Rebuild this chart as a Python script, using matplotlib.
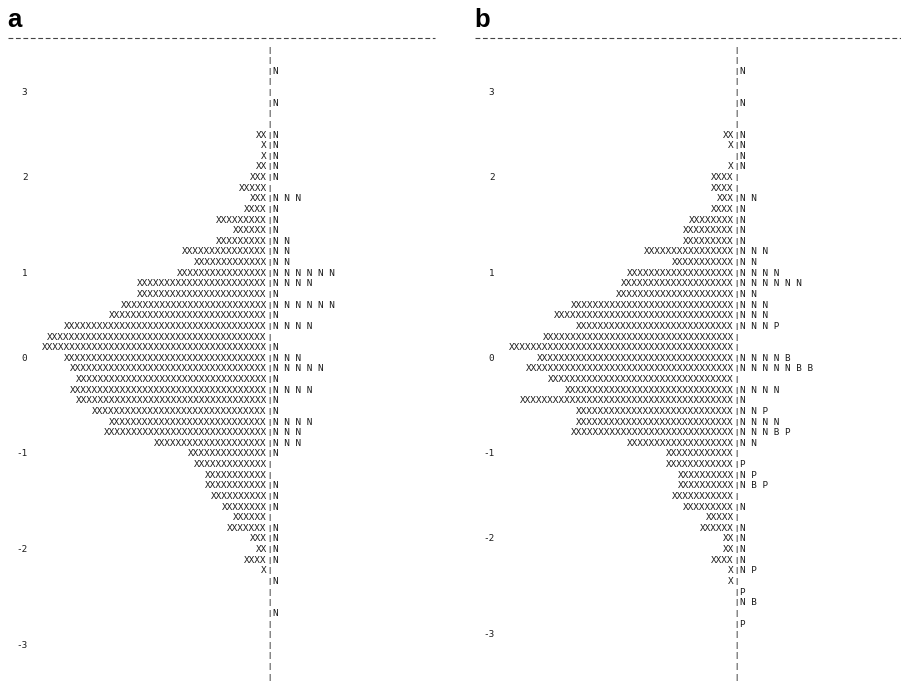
import matplotlib
matplotlib.use("Agg")
import matplotlib.pyplot as plt

# Person-item map rows, top row first: number of persons (X) and the items on each row
persons_a = [0, 0, 0, 0, 0, 0, 0, 0,
             2, 1, 1, 2, 3, 5, 3, 4, 9, 6, 9, 15, 13, 16, 23, 23, 26, 28, 36, 39,
             40, 36, 35, 34, 35, 34, 31, 28, 29, 20, 14, 13, 11, 11, 10, 8, 6, 7,
             3, 2, 4, 1,
             0, 0, 0, 0, 0, 0, 0, 0, 0, 0]
items_a = ["", "", "N", "", "", "N", "", "", "N", "N", "N", "N", "N", "", "NNN",
           "N", "N", "N", "NN", "NN", "NN", "NNNNNN", "NNNN", "N", "NNNNNN", "N",
           "NNNN", "", "N", "NNN", "NNNNN", "N", "NNNN", "N", "N", "NNNN", "NNN",
           "NNN", "N", "", "", "N", "N", "N", "", "N", "N", "N", "N", "", "N", "",
           "", "N", "", "", "", "", "", ""]
tick_rows_a = [5, 13, 22, 30, 39, 48, 57]

persons_b = [0, 0, 0, 0, 0, 0, 0, 0,
             2, 1, 0, 1, 4, 4, 3, 4, 8, 9, 9, 16, 11, 19, 20, 21, 29, 32, 28, 34,
             40, 35, 37, 33, 30, 38, 28, 28, 29, 19, 12, 12, 10, 10, 11, 9, 5, 6,
             2, 2, 4, 1, 1,
             0, 0, 0, 0, 0, 0, 0, 0, 0]
items_b = ["", "", "N", "", "", "N", "", "", "N", "N", "N", "N", "", "", "NN",
           "N", "N", "N", "N", "NNN", "NN", "NNNN", "NNNNNN", "NN", "NNN", "NNN",
           "NNNP", "", "", "NNNNB", "NNNNNBB", "", "NNNN", "N", "NNP", "NNNN",
           "NNNBP", "NN", "", "P", "NP", "NBP", "", "N", "", "N", "N", "N", "N",
           "NP", "", "P", "NB", "", "P", "", "", "", "", ""]
tick_rows_b = [5, 13, 22, 30, 39, 47, 56]

tick_labels = ["3", "2", "1", "0", "-1", "-2", "-3"]

W, H = 901, 685
CHAR = 5.64      # px per character cell
ROW = 10.63      # px per map row
TOP = 38         # px, dashed rule
FIRST = 50       # px, centre of first row
BAR = 261.5      # px from panel left edge to the bar
PANEL_W = 427

mono = dict(family="DejaVu Sans Mono", fontsize=6.75, color="#1c1c1c")

fig = plt.figure(figsize=(W / 100, H / 100), dpi=100)
fig.patch.set_facecolor("white")


def draw_panel(left, letter, persons, items, tick_rows):
    ax = fig.add_axes([left / W, 0, PANEL_W / W, (H - TOP) / H])
    x0 = -BAR / CHAR
    ax.set_xlim(x0, x0 + PANEL_W / CHAR)
    r_top = 1 - (FIRST - TOP) / ROW
    ax.set_ylim(r_top + (H - TOP) / ROW, r_top)
    ax.axis("off")

    ax.plot([x0, x0 + PANEL_W / CHAR], [r_top, r_top], color="#444444",
            lw=0.8, ls=(0, (4.3, 2.4)), clip_on=False)

    for i, (n, it) in enumerate(zip(persons, items)):
        row = i + 1
        if n:
            ax.text(-0.5, row, "X" * n, ha="right", va="center", **mono)
        ax.text(0, row, "|", ha="center", va="center", family="DejaVu Sans Mono",
                fontsize=5.0, fontweight="bold", color="#111111")
        if it:
            ax.text(0.55, row, " ".join(it), ha="left", va="center", **mono)

    for row, lab in zip(tick_rows, tick_labels):
        ax.text(x0 + 3.45, row, lab, ha="right", va="center", **mono)

    fig.text((left - 1) / W, 1 - 27 / H, letter, family="Liberation Sans",
             fontsize=18.5, fontweight="bold", ha="left", va="baseline")


draw_panel(8, "a", persons_a, items_a, tick_rows_a)
draw_panel(475, "b", persons_b, items_b, tick_rows_b)

fig.savefig("out.png", dpi=100, facecolor="white")
